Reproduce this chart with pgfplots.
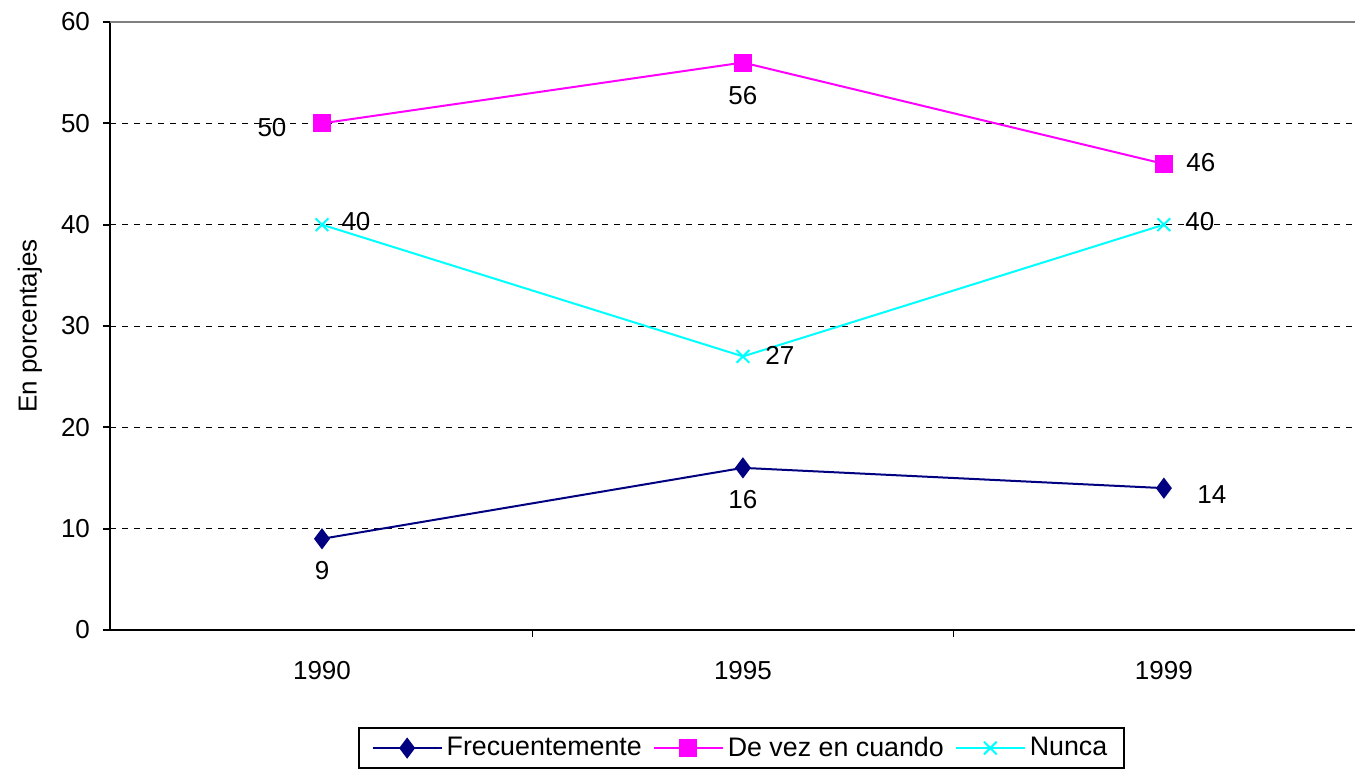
\documentclass[border=0pt]{standalone}
\usepackage{pgfplots}
\pgfplotsset{compat=1.18}
\usepackage{fontspec}
\setmainfont{Liberation Sans}
\definecolor{navy}{RGB}{0,0,128}
\definecolor{mag}{RGB}{255,0,255}
\definecolor{cy}{RGB}{0,255,255}
\newcommand{\f}{\fontsize{13}{15.6}\selectfont}
\newcommand{\lf}{\fontsize{13.4}{16}\selectfont}
\begin{document}
\begin{tikzpicture}
\begin{axis}[
  scale only axis, width=622.5pt, height=304pt,
  at={(0,0)}, anchor=south west,
  xmin=-0.5036, xmax=2.454, ymin=0, ymax=60,
  axis x line*=bottom, axis y line*=left,
  axis line style={black, line width=0.9pt, -},
  xtick={0.5,1.5}, xticklabels={},
  extra x ticks={0,1,2}, extra x tick labels={1990,1995,1999},
  extra x tick style={major tick length=0pt, xticklabel style={anchor=base, yshift=-24.5pt}},
  ytick={0,10,20,30,40,50},
  extra y ticks={60},
  extra y tick style={major grid style={solid, gray, line width=1.3pt}},
  ymajorgrids,
  major grid style={black, line width=0.5pt, dash pattern=on 3pt off 3pt},
  tick align=outside, major tick length=3.5pt,
  tick style={black, line width=0.9pt},
  ticklabel style={font=\f},
  yticklabel style={xshift=-3pt},
  /pgf/number format/assume math mode=true,
  ylabel={En porcentajes},
  ylabel style={font=\f, at={(axis description cs:0,0.5)}, anchor=center, yshift=40pt},
  legend style={at={(rel axis cs:0.5072,-0.1595)}, anchor=north, legend columns=3,
    draw=black, line width=0.9pt, font=\lf, inner xsep=6.5pt, inner ysep=2.5pt,
    /tikz/every even column/.append style={column sep=3.5pt}},
  legend cell align=left,
  legend image code/.code={\draw[#1, mark repeat=2, mark phase=2] plot coordinates {(0pt,0pt)(17.25pt,0pt)(34.5pt,0pt)};},
  clip=false,
]
\addplot[navy, line width=1pt, mark=diamond*, mark size=4.5pt, mark options={solid, fill=navy}]
  coordinates {(0,9) (1,16) (2,14)};
\addlegendentry{Frecuentemente}
\addplot[mag, line width=1pt, mark=square*, mark size=4pt, mark options={solid, fill=mag}]
  coordinates {(0,50) (1,56) (2,46)};
\addlegendentry{De vez en cuando}
\addplot[cy, line width=1pt, mark=x, mark size=4.5pt, mark options={solid}]
  coordinates {(0,40) (1,27) (2,40)};
\addlegendentry{Nunca}

\node[font=\f] at (axis cs:0,9) [yshift=-16pt] {9};
\node[font=\f] at (axis cs:1,16) [yshift=-16pt] {16};
\node[font=\f] at (axis cs:2,14) [xshift=24pt, yshift=-3pt] {14};
\node[font=\f] at (axis cs:0,50) [xshift=-25pt, yshift=-2pt] {50};
\node[font=\f] at (axis cs:1,56) [yshift=-16.5pt] {56};
\node[font=\f] at (axis cs:2,46) [xshift=18.5pt, yshift=0.5pt] {46};
\node[font=\f] at (axis cs:0,40) [xshift=17pt, yshift=1.5pt] {40};
\node[font=\f] at (axis cs:1,27) [xshift=18.5pt, yshift=0.5pt] {27};
\node[font=\f] at (axis cs:2,40) [xshift=18pt, yshift=1.5pt] {40};
\end{axis}
\pgfresetboundingbox
\path (-55pt,-73pt) rectangle (622.5pt,315pt);
\end{tikzpicture}
\end{document}
